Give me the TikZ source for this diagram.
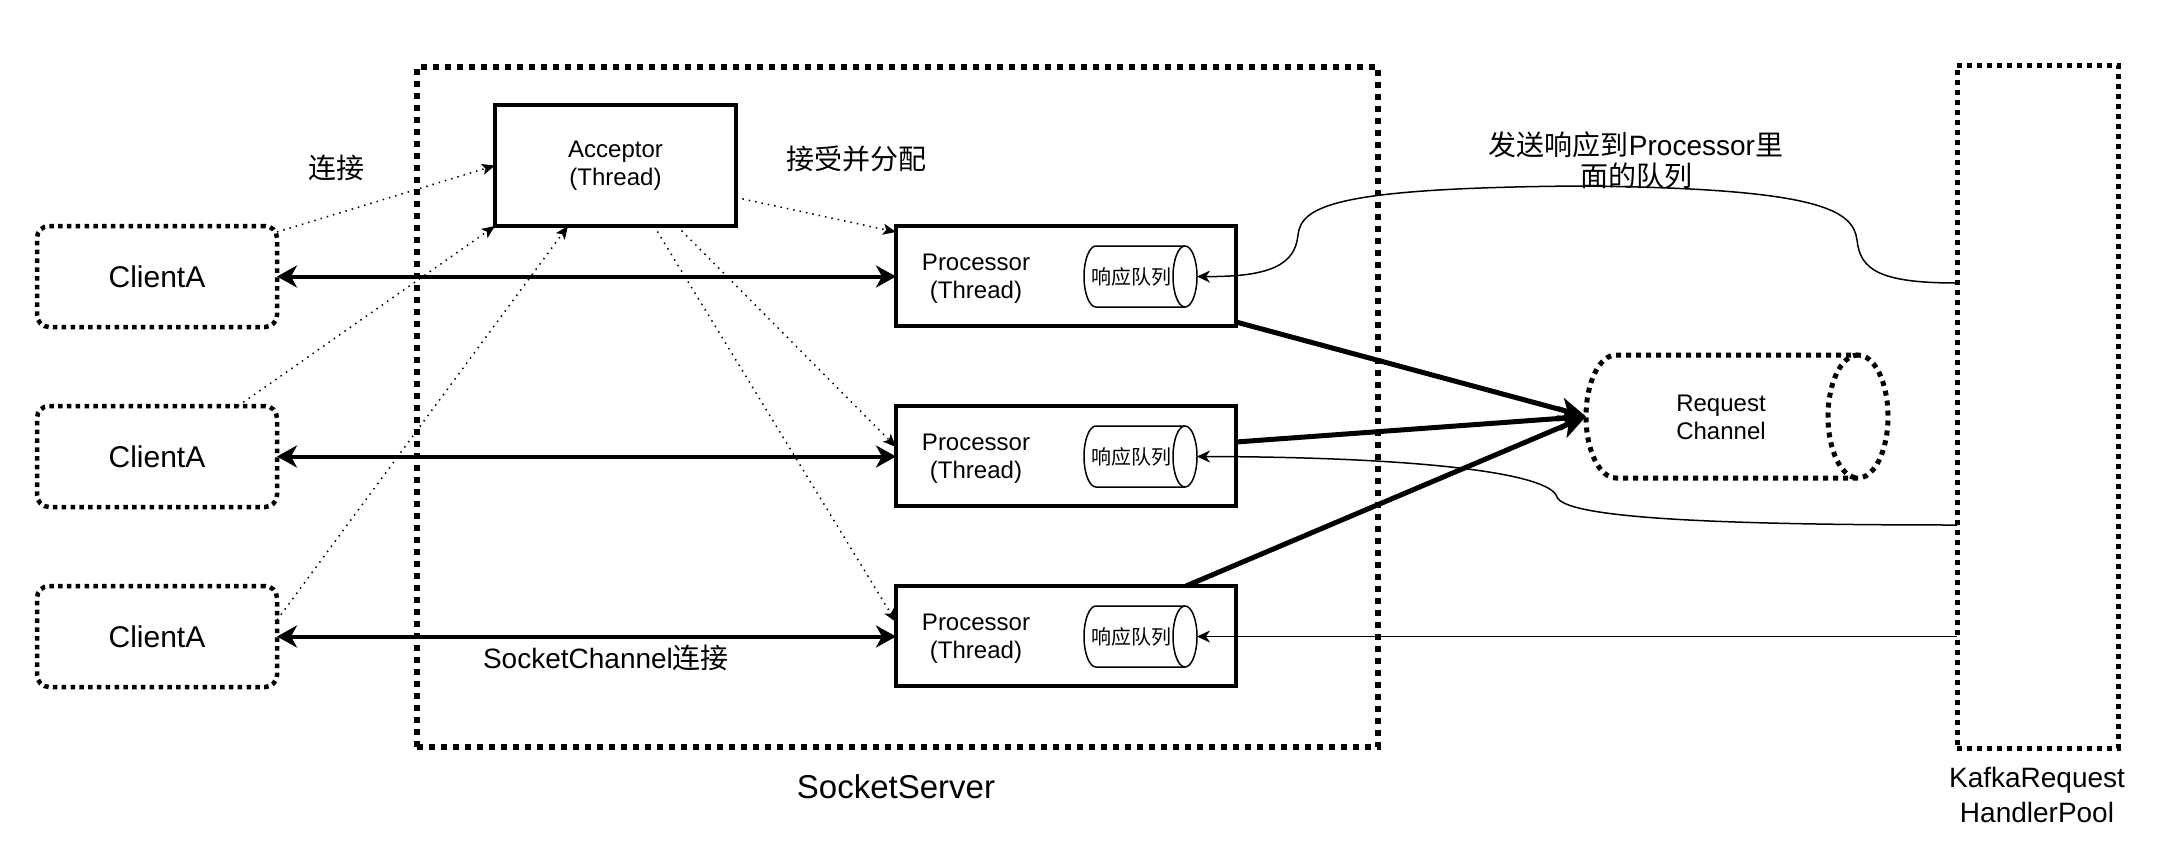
\documentclass[tikz,border=0pt]{standalone}
\usepackage{fontspec}
\setmainfont{Liberation Sans}
\newfontfamily\cjk{Noto Sans CJK SC}
\usetikzlibrary{arrows.meta}

\newcommand{\cylout}[4]{% style, node, rx, ry
  \draw[#1] ([xshift=#3]#2.north west) -- ([xshift=-#3]#2.north east)
    arc[start angle=90,end angle=-90,x radius=#3,y radius=#4]
    -- ([xshift=#3]#2.south west)
    arc[start angle=270,end angle=90,x radius=#3,y radius=#4] -- cycle;
  \draw[#1] ([xshift=-#3]#2.north east) arc[start angle=90,end angle=270,x radius=#3,y radius=#4];
}

\begin{document}
\begin{tikzpicture}[x=1pt,y=1pt,
  region/.style={draw, line width=5pt, dash pattern=on 5pt off 5pt, inner sep=0pt, outer sep=0pt},
  bigregion/.style={region, line width=6pt, dash pattern=on 6pt off 6pt},
  thickdot/.style={line width=5pt, dash pattern=on 5pt off 5pt},
  client/.style={region, line width=4.5pt, dash pattern=on 4.5pt off 4.3pt, rounded corners=12pt, minimum width=240pt, minimum height=101pt, font=\fontsize{30}{36}\selectfont},
  solidbox/.style={draw, line width=4.5pt, inner sep=0pt, outer sep=0pt},
  cylnode/.style={inner sep=0pt, outer sep=0pt, minimum width=113pt, minimum height=61pt},
  mid/.style={font=\fontsize{24}{28}\selectfont, inner sep=0pt, align=center},
  qtext/.style={font=\cjk\fontsize{20}{24}\selectfont, inner sep=0pt},
  lbl/.style={font=\fontsize{28}{31}\selectfont, inner sep=0pt, align=center},
  thinline/.style={line width=1.5pt},
  dotarr/.style={line width=1.5pt, dash pattern=on 1.5pt off 5pt, -{Stealth[length=13pt,width=11pt,inset=3pt]}},
  dbl/.style={line width=4pt, {Stealth[length=20pt,width=22pt,inset=6pt]}-{Stealth[length=20pt,width=22pt,inset=6pt]}},
  thickarr/.style={line width=5pt, -{Stealth[length=26pt,width=24pt,inset=7pt]}},
  thinarr/.style={line width=1.5pt, -{Stealth[length=13pt,width=12pt,inset=4pt]}}
]
\useasboundingbox (0,0) rectangle (2174,-852);

% containers
\node[bigregion, minimum width=961pt, minimum height=680pt] (ss) at (897.5,-407) {};
\node[region, minimum width=161pt, minimum height=683pt] (hp) at (2037.5,-406.5) {};

% acceptor
\node[solidbox, mid, minimum width=241pt, minimum height=121pt] (acc) at (615.5,-165.5) {Acceptor\\(Thread)};

% clients
\node[client] (c1) at (157,-276.5) {ClientA};
\node[client] (c2) at (157,-456.5) {ClientA};
\node[client] (c3) at (157,-636.5) {ClientA};

% processors
\node[solidbox, minimum width=340pt, minimum height=100pt] (p1) at (1066,-276) {};
\node[solidbox, minimum width=340pt, minimum height=100pt] (p2) at (1066,-456) {};
\node[solidbox, minimum width=340pt, minimum height=100pt] (p3) at (1066,-636) {};
\node[mid] (p1t) at ([xshift=-90pt,yshift=-3pt]p1.center) {Processor\\(Thread)};
\node[mid] (p2t) at ([xshift=-90pt,yshift=-3pt]p2.center) {Processor\\(Thread)};
\node[mid] (p3t) at ([xshift=-90pt,yshift=-3pt]p3.center) {Processor\\(Thread)};

% response queues
\node[cylnode] (q1) at (1140.5,-276.5) {};
\node[cylnode] (q2) at (1140.5,-456.5) {};
\node[cylnode] (q3) at (1140.5,-636.5) {};
\cylout{thinline}{q1}{12pt}{30.5pt}
\cylout{thinline}{q2}{12pt}{30.5pt}
\cylout{thinline}{q3}{12pt}{30.5pt}
\node[qtext] (q1t) at ([xshift=-9pt]q1.center) {响应队列};
\node[qtext] (q2t) at ([xshift=-9pt]q2.center) {响应队列};
\node[qtext] (q3t) at ([xshift=-9pt]q3.center) {响应队列};

% request channel
\node[cylnode, minimum width=302pt, minimum height=123pt] (rc) at (1737,-416.5) {};
\cylout{thickdot}{rc}{30pt}{61.5pt}
\node[mid] (rct) at ([xshift=-16pt,yshift=-1pt]rc.center) {Request\\Channel};

% labels
\node[lbl] (l1) at (336,-168) {\cjk 连接};
\node[lbl] (l2) at (856,-159) {\cjk 接受并分配};
\node[lbl] (l3) at (1636,-160) {{\cjk 发送响应到}Processor{\cjk 里}\\{\cjk 面的队列}};
\node[lbl] (l4) at (606,-658) {SocketChannel{\cjk 连接}};
\node[font=\fontsize{33}{38}\selectfont, inner sep=0pt] (l5) at (896,-787) {SocketServer};
\node[font=\fontsize{28}{35}\selectfont, inner sep=0pt, align=center] (l6) at (2037,-795) {KafkaRequest\\HandlerPool};

% socket channels
\draw[dbl] (c1.east) -- (c1.east -| p1.west);
\draw[dbl] (c2.east) -- (c2.east -| p2.west);
\draw[dbl] (c3.east) -- (c3.east -| p3.west);

% connect / accept
\draw[dotarr] ([yshift=-6pt]c1.north east) -- (acc.west);
\draw[dotarr] ([xshift=201pt]c2.north west) -- (acc.south west);
\draw[dotarr] ([yshift=-34pt]c3.north east) -- ([xshift=73pt]acc.south west);
\draw[dotarr] ([yshift=-32pt]acc.east) -- ([yshift=-6pt]p1.north west);
\draw[dotarr] ([xshift=182pt]acc.south west) -- ([yshift=9pt]p2.west);
\draw[dotarr] ([xshift=159pt]acc.south west) -- ([yshift=14pt]p3.west);

% requests
\draw[thickarr] ([yshift=4pt]p1.south east) -- (rc.west);
\draw[thickarr] ([yshift=14pt]p2.east) -- (rc.west);
\draw[thickarr] ([xshift=-50pt]p3.north east) -- (rc.west);

% responses
\draw[thinarr] ([yshift=123.5pt]hp.west) .. controls (1880,-283) and (1860,-270) .. (1857,-240)
  .. controls (1853,-210) and (1820,-188) .. (1578,-186)
  .. controls (1340,-188) and (1301,-205) .. (1298,-235)
  .. controls (1295,-265) and (1270,-277) .. (q1.east);
\draw[thinarr] ([yshift=-118.5pt]hp.west) .. controls (1700,-525) and (1565,-517) .. (1557,-497)
  .. controls (1550,-473) and (1420,-457) .. (q2.east);
\draw[thinarr] (q3.east -| hp.west) -- (q3.east);
\end{tikzpicture}
\end{document}
